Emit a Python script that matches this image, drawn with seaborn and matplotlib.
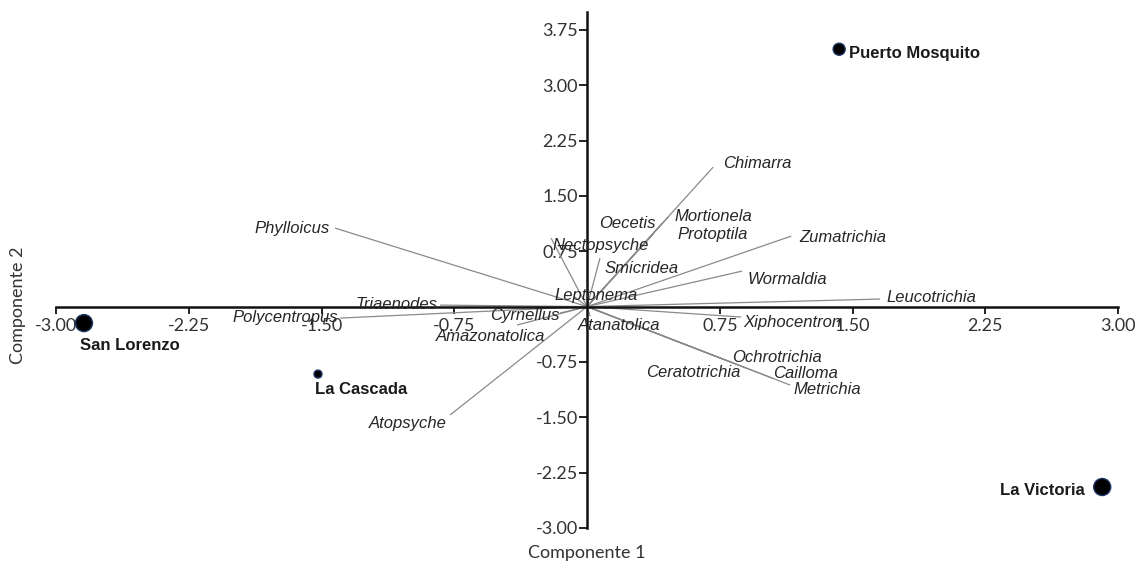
import numpy as np
import pandas as pd
import matplotlib
matplotlib.use("Agg")
import matplotlib.pyplot as plt
import seaborn as sns

# Caddisfly genera: loadings on the first two components
species = [
    "Chimarra", "Phylloicus", "Oecetis", "Mortionela", "Protoptila",
    "Nectopsyche", "Smicridea", "Zumatrichia", "Wormaldia", "Leucotrichia",
    "Leptonema", "Triaenodes", "Polycentropus", "Cyrnellus", "Amazonatolica",
    "Atanatolica", "Xiphocentron", "Ochrotrichia", "Ceratotrichia",
    "Cailloma", "Metrichia", "Atopsyche",
]
comp1 = [0.712, -1.424, 0.424, 0.463, 0.373,
         -0.203, 0.073, 1.153, 0.876, 1.655,
         -0.070, -0.830, -1.395, -0.153, -0.395,
         0.017, 0.870, 0.825, 0.893,
         1.051, 1.147, -0.774]
comp2 = [1.890, 1.064, 1.130, 1.226, 0.980,
         0.928, 0.657, 0.955, 0.481, 0.102,
         0.130, 0.020, -0.156, -0.088, -0.250,
         -0.130, -0.142, -0.765, -0.828,
         -0.974, -1.064, -1.470]

# Sampling sites: scores on the first two components
sites = ["Puerto Mosquito", "San Lorenzo", "La Cascada", "La Victoria"]
site_c1 = [1.424, -2.842, -1.520, 2.910]
site_c2 = [3.489, -0.224, -0.915, -2.446]

# Axis ticks
xticks = [-3.00, -2.25, -1.50, -0.75, 0.75, 1.50, 2.25, 3.00]
yticks = [-3.00, -2.25, -1.50, -0.75, 0.75, 1.50, 2.25, 3.00, 3.75]

# Label placement (alignment, x offset px, y offset px)
species_label_pos = {
    "Chimarra": ("left", 10, 4), "Phylloicus": ("right", -5, 0),
    "Oecetis": ("right", -7, 0), "Mortionela": ("left", 5, 0),
    "Protoptila": ("left", 24, 0), "Nectopsyche": ("left", 1, -7),
    "Smicridea": ("left", 5, -10), "Zumatrichia": ("left", 8, -1),
    "Wormaldia": ("left", 5, -8), "Leucotrichia": ("left", 6, 2),
    "Leptonema": ("center", 21, 1), "Triaenodes": ("right", -3, 1),
    "Polycentropus": ("right", -2, 1), "Cyrnellus": ("right", 0, -2),
    "Amazonatolica": ("center", -27, -11), "Atanatolica": ("left", -12, -9),
    "Xiphocentron": ("left", 2, -5), "Ochrotrichia": ("left", -1, 6),
    "Ceratotrichia": ("right", -5, -5), "Cailloma": ("left", 0, 5),
    "Metrichia": ("left", 3, -4), "Atopsyche": ("right", -3, -8),
}
site_label_pos = {
    "Puerto Mosquito": ("left", 10, -4), "San Lorenzo": ("left", -4, -22),
    "La Cascada": ("left", -3, -15), "La Victoria": ("right", -17, -3),
}
site_marker_size = {"Puerto Mosquito": 75, "San Lorenzo": 150,
                    "La Cascada": 33, "La Victoria": 150}

sns.set_theme(style="white")
plt.rcParams["font.family"] = ["Liberation Sans", "DejaVu Sans"]

fig = plt.figure(figsize=(11.43, 5.68), dpi=100)
ax = fig.add_axes([0.018, 0.0317, 0.968, 0.961])
ax.set_xlim(-3.2, 3.05)
ax.set_ylim(-3.3, 4.1)

loadings = pd.DataFrame({"species": species, "c1": comp1, "c2": comp2})
scores = pd.DataFrame({"site": sites, "c1": site_c1, "c2": site_c2})

# Loading vectors from the origin
for _, r in loadings.iterrows():
    ax.plot([0, r.c1], [0, r.c2], color="#8a8a8a", lw=0.9, zorder=2,
            solid_capstyle="butt")
    ha, dx, dy = species_label_pos[r.species]
    ax.annotate(r.species, (r.c1, r.c2), xytext=(dx, dy),
                textcoords="offset pixels", ha=ha, va="center",
                fontsize=12, fontstyle="italic", color="#262626", zorder=4)

# Site scores
sns.scatterplot(data=scores, x="c1", y="c2", size="site",
                sizes=site_marker_size, color="black", edgecolor="#1d3566",
                linewidth=1.0, legend=False, ax=ax, zorder=5)
for _, r in scores.iterrows():
    ha, dx, dy = site_label_pos[r.site]
    ax.annotate(r.site, (r.c1, r.c2), xytext=(dx, dy),
                textcoords="offset pixels", ha=ha, va="center",
                fontsize=12, fontweight="bold", color="#1a1a1a", zorder=6)

# Cross-shaped axes through the origin
for side in ["top", "right"]:
    ax.spines[side].set_visible(False)
ax.spines["left"].set_position(("data", 0))
ax.spines["bottom"].set_position(("data", 0))
ax.spines["left"].set_bounds(-3.0, 3.99)
ax.spines["bottom"].set_bounds(-3.0, 3.0)
for side in ["left", "bottom"]:
    ax.spines[side].set_linewidth(1.8)
    ax.spines[side].set_color("#111111")
    ax.spines[side].set_zorder(3)

ax.set_xticks(xticks)
ax.set_yticks(yticks)
ax.set_xticklabels([f"{v:.2f}" for v in xticks], family="Lato", fontsize=13,
                   color="#333333")
ax.set_yticklabels([f"{v:.2f}" for v in yticks], family="Lato", fontsize=13,
                   color="#333333")
ax.tick_params(axis="x", direction="out", length=5, width=1.3, pad=3,
               color="#111111", bottom=True)
ax.tick_params(axis="y", direction="out", length=6, width=1.3, pad=0.5,
               color="#111111", left=True)
ax.set_xlabel("")
ax.set_ylabel("")
ax.grid(False)

fig.text(18 / 1143, 1 - 305 / 568, "Componente 2", rotation=90, ha="center",
         va="center", family="Lato", fontsize=13, color="#333333")
fig.text(587 / 1143, 1 - 553 / 568, "Componente 1", ha="center", va="center",
         family="Lato", fontsize=13, color="#333333")

fig.savefig("out.png", dpi=100, facecolor="white")
